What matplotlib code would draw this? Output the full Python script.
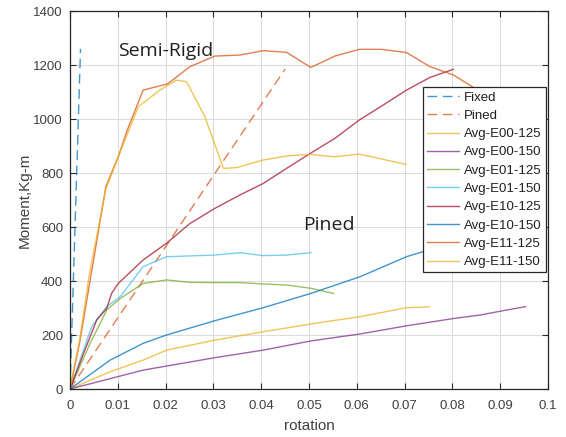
import matplotlib
matplotlib.use("Agg")
import matplotlib.pyplot as plt

# reference lines
fixed_x = [0.0, 0.0022]
fixed_y = [0, 1260]
pined_x = [0.0, 0.045]
pined_y = [0, 1185]

# averaged test curves (rotation, moment)
e00_125_x = [0.0, 0.0084, 0.0153, 0.0202, 0.0303, 0.0404, 0.0481, 0.0504, 0.0607, 0.0704, 0.0752]
e00_125_y = [0, 64, 107, 144, 181, 212, 234, 241, 268, 301, 304]

e00_150_x = [0.0, 0.0153, 0.0202, 0.0303, 0.0404, 0.0504, 0.0607, 0.0704, 0.0802, 0.0858, 0.0906, 0.0953]
e00_150_y = [0, 70, 85, 116, 144, 178, 204, 234, 261, 274, 290, 305]

e01_125_x = [0.0, 0.0042, 0.0077, 0.0105, 0.0153, 0.0202, 0.0251, 0.0303, 0.0356, 0.0404, 0.0453, 0.0504, 0.0551]
e01_125_y = [0, 169, 293, 335, 391, 404, 395, 394, 394, 389, 385, 373, 354]

e01_150_x = [0.0, 0.0045, 0.0077, 0.0105, 0.0153, 0.0202, 0.0303, 0.0356, 0.0404, 0.0453, 0.0504]
e01_150_y = [0, 230, 305, 342, 453, 490, 496, 505, 494, 496, 505]

e10_125_x = [0.0, 0.0028, 0.0056, 0.0077, 0.0087, 0.0101, 0.0153, 0.0202, 0.0251, 0.0303, 0.0356,
             0.0404, 0.0453, 0.0503, 0.0554, 0.0605, 0.0652, 0.0704, 0.0753, 0.0802]
e10_125_y = [0, 130, 256, 299, 354, 391, 478, 540, 613, 669, 719,
             761, 817, 873, 928, 996, 1048, 1107, 1154, 1184]

e10_150_x = [0.0, 0.0084, 0.0153, 0.0202, 0.0303, 0.0404, 0.0504, 0.0607, 0.0704, 0.0739, 0.0800]
e10_150_y = [0, 107, 169, 200, 253, 301, 354, 416, 490, 509, 530]

e11_125_x = [0.0, 0.002, 0.004, 0.006, 0.0075, 0.0101, 0.0120, 0.0153, 0.0204, 0.0251, 0.0303,
             0.0356, 0.0404, 0.0453, 0.0504, 0.0554, 0.0605, 0.0652, 0.0704, 0.0753, 0.0802, 0.0844, 0.0900]
e11_125_y = [0, 170, 380, 590, 750, 860, 960, 1107, 1130, 1194, 1233,
             1237, 1253, 1247, 1191, 1233, 1258, 1258, 1246, 1194, 1163, 1117, 1100]

e11_150_x = [0.0, 0.002, 0.004, 0.0075, 0.0101, 0.0143, 0.0188, 0.0223, 0.0244, 0.0282, 0.0321,
             0.0349, 0.0404, 0.0453, 0.0502, 0.0554, 0.0605, 0.0703]
e11_150_y = [0, 180, 420, 740, 860, 1046, 1107, 1144, 1138, 1009, 817,
             820, 848, 863, 869, 860, 870, 832]

series = [
    ("Avg-E00-125", e00_125_x, e00_125_y, "#EDB120"),
    ("Avg-E00-150", e00_150_x, e00_150_y, "#7E2F8E"),
    ("Avg-E01-125", e01_125_x, e01_125_y, "#77AC30"),
    ("Avg-E01-150", e01_150_x, e01_150_y, "#4DBEEE"),
    ("Avg-E10-125", e10_125_x, e10_125_y, "#A2142F"),
    ("Avg-E10-150", e10_150_x, e10_150_y, "#0072BD"),
    ("Avg-E11-125", e11_125_x, e11_125_y, "#D95319"),
    ("Avg-E11-150", e11_150_x, e11_150_y, "#EDB120"),
]

plt.rcParams["font.family"] = ["Liberation Sans", "DejaVu Sans"]
axis_gray = "#262626"
text_gray = "#404040"

fig = plt.figure(figsize=(5.66, 4.37), dpi=100)
ax = fig.add_axes([70 / 566, 48 / 437, 478 / 566, 378 / 437])

ax.plot(fixed_x, fixed_y, color="#0072BD", lw=1.0, dashes=(7, 4), alpha=0.75, label="Fixed")
ax.plot(pined_x, pined_y, color="#D95319", lw=1.0, dashes=(7, 4), alpha=0.75, label="Pined")
for name, xs, ys, col in series:
    ax.plot(xs, ys, color=col, lw=1.0, alpha=0.75, label=name)

# region annotations
ax.text(0.0100, 1250, "Semi-Rigid", fontsize=14, color="#202020", va="center", ha="left",
        family=["Open Sans", "DejaVu Sans"])
ax.text(0.0487, 607, "Pined", fontsize=14, color="#202020", va="center", ha="left",
        family=["Open Sans", "DejaVu Sans"])

ax.set_xlim(0, 0.1)
ax.set_ylim(0, 1400)
ax.set_xticks([i / 100 for i in range(11)])
ax.set_xticklabels(["0", "0.01", "0.02", "0.03", "0.04", "0.05", "0.06", "0.07", "0.08", "0.09", "0.1"])
ax.set_yticks(range(0, 1401, 200))
ax.set_xlabel("rotation", fontsize=11, color=text_gray, labelpad=5)
ax.set_ylabel("Moment,Kg-m", fontsize=11, color=text_gray, labelpad=1)
ax.tick_params(direction="in", length=4, width=0.8, colors=axis_gray, labelcolor=text_gray,
               labelsize=9.5, top=True, right=True)
ax.tick_params(axis="x", pad=8)
ax.tick_params(axis="y", pad=5)
ax.grid(True, color="#dcdcdc", lw=0.8)
ax.set_axisbelow(True)
for sp in ax.spines.values():
    sp.set_color(axis_gray)
    sp.set_linewidth(0.9)

leg = ax.legend(loc="upper right", bbox_to_anchor=(0.995, 0.798), fontsize=9.5, frameon=True,
                fancybox=False, framealpha=1.0, edgecolor=axis_gray, handlelength=2.4,
                borderpad=0.3, labelspacing=0.46, handletextpad=0.4, borderaxespad=0.0)
leg.get_frame().set_linewidth(0.9)
for t in leg.get_texts():
    t.set_color("#202020")

fig.savefig("out.png", dpi=100)
